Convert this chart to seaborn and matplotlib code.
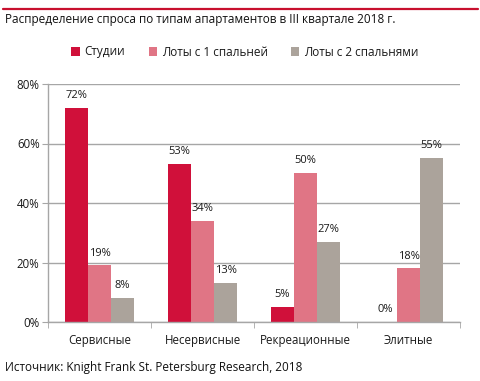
import numpy as np
import pandas as pd
import matplotlib
matplotlib.use("Agg")
import matplotlib.pyplot as plt
import seaborn as sns
from matplotlib.lines import Line2D
from matplotlib.ticker import FixedLocator, PercentFormatter

# data
categories = ["Сервисные", "Несервисные", "Рекреационные", "Элитные"]
series = ["Студии", "Лоты с 1 спальней", "Лоты с 2 спальнями"]
studios = [72, 53, 5, 0]
one_bed = [19, 34, 50, 18]
two_bed = [8, 13, 27, 55]
colors = ["#D0103A", "#E07585", "#ABA39B"]

df = pd.DataFrame({
    "category": categories * 3,
    "series": np.repeat(series, len(categories)),
    "value": studios + one_bed + two_bed,
})

sns.set_style("white")
plt.rcParams["font.family"] = ["Open Sans", "DejaVu Sans"]
grid_color = "#A6A6A6"

fig = plt.figure(figsize=(4.81, 3.81), dpi=100)
ax = fig.add_axes([48 / 481, 59 / 381, 412 / 481, 238 / 381])

sns.barplot(data=df, x="category", y="value", hue="series", palette=colors,
            width=0.67, saturation=1, linewidth=0, ax=ax, legend=True)

for cont in ax.containers:
    ax.bar_label(cont, fmt="%.0f%%", padding=5, fontsize=8, color="#1a1a1a")

ax.set_ylim(0, 80)
ax.set_xlim(-0.5, 3.5)
ax.yaxis.set_major_locator(FixedLocator([0, 20, 40, 60, 80]))
ax.yaxis.set_major_formatter(PercentFormatter(decimals=0))
ax.grid(axis="y", color=grid_color, linewidth=1)
ax.set_axisbelow(True)
ax.set_xlabel("")
ax.set_ylabel("")

for side in ["top", "right"]:
    ax.spines[side].set_visible(False)
for side in ["left", "bottom"]:
    ax.spines[side].set_color(grid_color)
    ax.spines[side].set_linewidth(1)

ax.tick_params(axis="y", left=True, length=4, color=grid_color, labelsize=8.3,
               pad=2, labelcolor="#1a1a1a")
ax.tick_params(axis="x", bottom=False, labelsize=8.3, pad=5, labelcolor="#1a1a1a")
ax.xaxis.set_minor_locator(FixedLocator([-0.5, 0.5, 1.5, 2.5, 3.5]))
ax.tick_params(axis="x", which="minor", bottom=True, length=4, color=grid_color)

ax.legend(loc="center", bbox_to_anchor=(245 / 481, 1 - 52 / 381),
          bbox_transform=fig.transFigure, ncol=3, frameon=False,
          fontsize=8.5, handlelength=0.7, handleheight=0.7,
          columnspacing=2.0, handletextpad=0.4, labelcolor="#1a1a1a")

# top red rule, title and source
fig.add_artist(Line2D([3 / 481, 478 / 481], [1 - 8.5 / 381] * 2,
                      color="#C8102E", linewidth=1.6))
fig.text(5 / 481, 1 - 20 / 381, "Распределение спроса по типам апартаментов в III квартале 2018 г.",
         fontsize=8.5, va="center", ha="left", color="#111111")
fig.text(5 / 481, 1 - 368 / 381, "Источник: Knight Frank St. Petersburg Research, 2018",
         fontsize=8.5, va="center", ha="left", color="#111111")

fig.savefig("out.png", dpi=100)
